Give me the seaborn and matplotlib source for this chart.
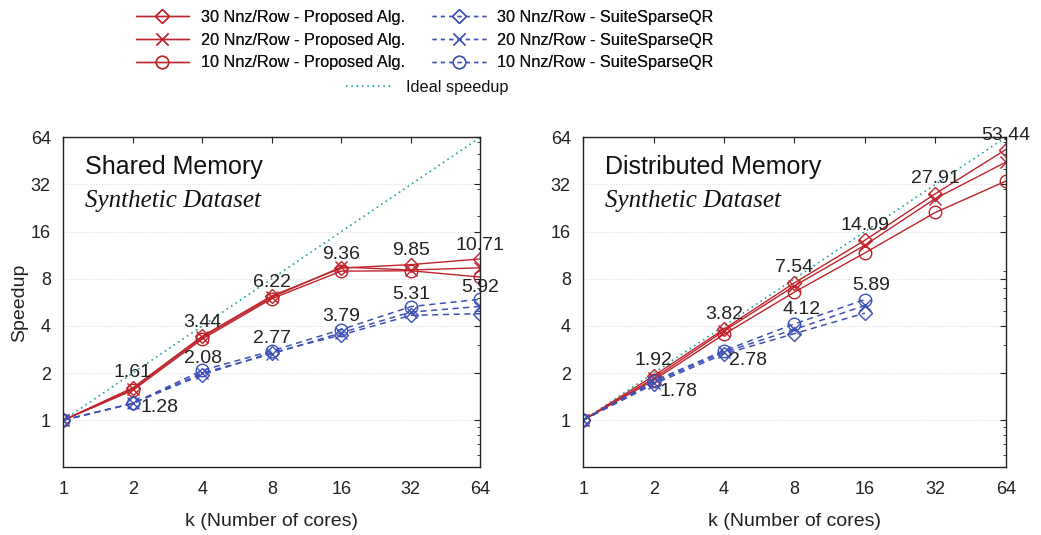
import matplotlib
matplotlib.use("Agg")
import matplotlib.pyplot as plt
import matplotlib.ticker as mticker
from matplotlib.lines import Line2D
import seaborn as sns
import pandas as pd

# cores
k = [1, 2, 4, 8, 16, 32, 64]
ideal = [1, 2, 4, 8, 16, 32, 64]

# shared memory speedups
sm_prop_30 = [1, 1.61, 3.44, 6.22, 9.36, 9.85, 10.71]
sm_prop_20 = [1, 1.58, 3.38, 6.10, 9.50, 9.10, 9.40]
sm_prop_10 = [1, 1.55, 3.30, 5.97, 8.95, 9.00, 8.20]
sm_ssqr_30 = [1, 1.28, 1.95, 2.70, 3.50, 4.67, 4.79]
sm_ssqr_20 = [1, 1.28, 2.00, 2.65, 3.62, 4.90, 5.33]
sm_ssqr_10 = [1, 1.28, 2.08, 2.77, 3.79, 5.31, 5.92]

# distributed memory speedups (SuiteSparseQR only up to 16 cores)
dm_prop_30 = [1, 1.92, 3.82, 7.54, 14.09, 27.91, 53.44]
dm_prop_20 = [1, 1.85, 3.72, 7.20, 13.10, 26.00, 44.40]
dm_prop_10 = [1, 1.80, 3.54, 6.58, 11.70, 21.20, 33.60]
k_ssqr = [1, 2, 4, 8, 16]
dm_ssqr_30 = [1, 1.70, 2.65, 3.57, 4.83]
dm_ssqr_20 = [1, 1.74, 2.72, 3.80, 5.40]
dm_ssqr_10 = [1, 1.78, 2.78, 4.12, 5.89]

# labels written next to the points: (k, value, dx px, dy px)
sm_labels = [(2, 1.61, 0, 15), (2, 1.28, 27, -4), (4, 3.44, 0, 14), (4, 2.08, 1, 12),
             (8, 6.22, 0, 13), (8, 2.77, 0, 12), (16, 9.36, 0, 14), (16, 3.79, 0, 13),
             (32, 9.85, 0, 14), (32, 5.31, 0, 12), (64, 10.71, 0, 13), (64, 5.92, 0, 12)]
dm_labels = [(2, 1.92, 0, 15), (2, 1.78, 25, -11), (4, 3.82, 0, 15), (4, 2.78, 24, -10),
             (8, 7.54, 0, 15), (8, 4.12, 7, 14), (16, 14.09, 0, 15), (16, 5.89, 6, 14),
             (32, 27.91, 0, 15), (64, 53.44, 0, 14)]

RED = "#bf242c"
BLUE = "#3f51b5"
TEAL = "#22a3a3"

sns.set_theme(style="white")
plt.rcParams['font.family'] = ['Liberation Sans', 'DejaVu Sans']

fig = plt.figure(figsize=(10.41, 5.35), dpi=100)
ax1 = fig.add_axes([0.0608, 0.1265, 0.4006, 0.6168])
ax2 = fig.add_axes([0.5603, 0.1265, 0.4058, 0.6168])


def draw(ax, kp, props, ks, ssqrs, labels, title):
    sns.lineplot(x=k, y=ideal, ax=ax, color=TEAL, linestyle=(0, (1, 2.2)), lw=1.2)
    marks = ["D", "x", "o"]
    sizes = [7, 9, 9]
    for y, m, s in zip(props, marks, sizes):
        sns.lineplot(x=kp, y=y, ax=ax, color=RED, lw=1.0, marker=m, markersize=s,
                     markerfacecolor="none", markeredgecolor=RED, markeredgewidth=1.0)
    for y, m, s in zip(ssqrs, marks, sizes):
        sns.lineplot(x=ks, y=y, ax=ax, color=BLUE, lw=1.1, linestyle=(0, (4, 3)),
                     marker=m, markersize=s, markerfacecolor="none",
                     markeredgecolor=BLUE, markeredgewidth=1.0)
    for x, v, dx, dy in labels:
        ax.annotate(f"{v:.2f}", (x, v), xytext=(dx, dy), textcoords="offset pixels",
                    ha="center", va="center", fontsize=14, color="#222222",
                    annotation_clip=False)
    ax.set_xscale("log", base=2)
    ax.set_yscale("log", base=2)
    ax.set_xlim(1, 64)
    ax.set_ylim(0.5, 64)
    ax.xaxis.set_major_locator(mticker.FixedLocator(k))
    ax.xaxis.set_major_formatter(mticker.FixedFormatter([str(v) for v in k]))
    ax.xaxis.set_minor_locator(mticker.NullLocator())
    ax.yaxis.set_major_locator(mticker.FixedLocator(ideal))
    ax.yaxis.set_major_formatter(mticker.FixedFormatter([str(v) for v in ideal]))
    ax.yaxis.set_minor_locator(mticker.LogLocator(base=10, subs=range(2, 10)))
    ax.yaxis.set_minor_formatter(mticker.NullFormatter())
    ax.tick_params(which="both", direction="in", top=True, right=True, labelsize=13,
                   colors="#222222")
    ax.tick_params(axis="y", pad=9)
    ax.tick_params(axis="x", pad=10)
    ax.tick_params(which="major", length=4, width=0.8)
    ax.tick_params(which="minor", length=2, width=0.6)
    ax.grid(axis="y", which="major", linestyle=":", color="#dddddd", lw=0.8)
    for sp in ax.spines.values():
        sp.set_color("#222222")
        sp.set_linewidth(1.0)
    ax.set_xlabel("k (Number of cores)", fontsize=14, color="#222222", labelpad=11)
    ax.text(0.052, 0.91, title, transform=ax.transAxes, fontsize=18,
            va="center", color="#111111")
    ax.text(0.052, 0.808, "Synthetic Dataset", transform=ax.transAxes, fontsize=18,
            va="center", family="Liberation Serif", style="italic", color="#111111")


draw(ax1, k, [sm_prop_30, sm_prop_20, sm_prop_10], k,
     [sm_ssqr_30, sm_ssqr_20, sm_ssqr_10], sm_labels, "Shared Memory")
draw(ax2, k, [dm_prop_30, dm_prop_20, dm_prop_10], k_ssqr,
     [dm_ssqr_30, dm_ssqr_20, dm_ssqr_10], dm_labels, "Distributed Memory")
ax1.set_ylabel("Speedup", fontsize=14, color="#222222", labelpad=2)
ax2.set_ylabel("")

# legend
names = ["30 Nnz/Row", "20 Nnz/Row", "10 Nnz/Row"]
handles, texts = [], []
for n, m, s in zip(names, ["D", "x", "o"], [7, 9, 9]):
    handles.append(Line2D([], [], color=RED, lw=1.0, marker=m, markersize=s,
                          markerfacecolor="none", markeredgecolor=RED))
    texts.append(n + " - Proposed Alg.")
for n, m, s in zip(names, ["D", "x", "o"], [7, 9, 9]):
    handles.append(Line2D([], [], color=BLUE, lw=1.0, linestyle=(0, (3, 3)), marker=m,
                          markersize=s, markerfacecolor="none", markeredgecolor=BLUE))
    texts.append(n + " - SuiteSparseQR")
leg = fig.legend(handles, texts, ncol=2, loc="upper center", bbox_to_anchor=(0.408, 1.009),
                 frameon=False, fontsize=11.7, handlelength=3.3, columnspacing=1.7,
                 labelspacing=0.48, handletextpad=0.7)
for t in leg.get_texts():
    t.set_color("#111111")
fig.add_artist(leg)
leg2 = fig.legend([Line2D([], [], color=TEAL, lw=1.2, linestyle=(0, (1, 2.2)))],
                  ["Ideal speedup"], loc="upper center", bbox_to_anchor=(0.41, 0.878),
                  frameon=False, fontsize=11.7, handlelength=3.0, handletextpad=0.7)
for t in leg2.get_texts():
    t.set_color("#111111")

fig.savefig("out.png", dpi=100)
